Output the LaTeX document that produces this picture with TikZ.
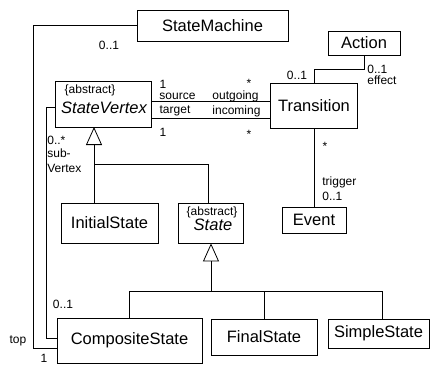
\documentclass[tikz,border=0pt]{standalone}
\usepackage{fontspec}
\setmainfont{Liberation Sans}
\usetikzlibrary{arrows.meta}
\begin{document}
\begin{tikzpicture}[x=1pt,y=-1pt,line width=0.8pt,
  box/.style={draw,rectangle,inner sep=0pt,font=\fontsize{16.5pt}{18pt}\selectfont},
  big/.style={inner sep=0pt,font=\fontsize{16.5pt}{18pt}\selectfont},
  lbl/.style={inner sep=0pt,font=\fontsize{12pt}{13pt}\selectfont},
  gen/.style={-{Triangle[open,length=18pt,width=16pt]}}]
\useasboundingbox (0,0) rectangle (431,365);
% classes
\node[box,minimum width=151pt,minimum height=31pt] (sm) at (212.5,25.5) {StateMachine};
\node[box,minimum width=96pt,minimum height=46pt] (sv) at (103,104) {};
\node[lbl] (sva) at (90,90) {\{abstract\}};
\node[big,font=\fontsize{16.5pt}{18pt}\selectfont\itshape] (svn) at (104,108) {StateVertex};
\node[box,minimum width=87pt,minimum height=45pt] (tr) at (314,105.5) {Transition};
\node[box,minimum width=72pt,minimum height=24pt] (ac) at (364,43) {Action};
\node[box,minimum width=64pt,minimum height=26pt] (ev) at (314,220) {Event};
\node[box,minimum width=97pt,minimum height=40pt] (is) at (109.5,223) {InitialState};
\node[box,minimum width=65pt,minimum height=40pt] (st) at (211,223) {};
\node[lbl] (sta) at (212,212) {\{abstract\}};
\node[big,font=\fontsize{16.5pt}{18pt}\selectfont\itshape] (stn) at (213,225) {State};
\node[box,minimum width=145pt,minimum height=45pt] (cs) at (129.5,340.5) {CompositeState};
\node[box,minimum width=106pt,minimum height=36pt] (fs) at (264,337) {FinalState};
\node[box,minimum width=101pt,minimum height=29pt] (ss) at (378.5,333.5) {SimpleState};
% helper coordinates
\coordinate (o1) at (33,348);
\coordinate (i0) at (0,107);
\coordinate (i1) at (46,338);
\coordinate (ya) at (0,101);
\coordinate (yb) at (0,118);
\coordinate (k) at (314,69);
\coordinate (g1) at (94,127);
\coordinate (g2) at (94,164);
\coordinate (g3) at (208,164);
\coordinate (h) at (211,291);
\coordinate (hc) at (129,291);
\coordinate (hs) at (382,291);
% associations
\draw (sm.west) -| (o1) -- (o1 -| cs.west);
\draw (sv.west |- i0) -| (i1) -- (i1 -| cs.west);
\draw (sv.east |- ya) -- (tr.west |- ya);
\draw (sv.east |- yb) -- (tr.west |- yb);
\draw (ac.south) |- (k) -- (tr.north);
\draw (tr.south) -- (ev.north);
% generalizations
\draw[gen] (g1 |- is.north) -- (g1);
\draw (g3 |- st.north) -- (g3) -- (g2);
\draw[gen] (h) -- (st.south);
\draw (hc |- cs.north) -- (hc) -- (hs) -- (hs |- ss.north);
\draw (fs.north) -- (fs.north |- h);
% labels
\node[lbl] (l1) at (109,45) {0..1};
\node[lbl] (l2) at (163,84) {1};
\node[lbl] (l3) at (177.5,96) {source};
\node[lbl] (l4) at (235.5,96) {outgoing};
\node[lbl] (l5) at (249,83) {*};
\node[lbl] (l6) at (175,111) {target};
\node[lbl] (l7) at (236.5,111) {incoming};
\node[lbl] (l8) at (163,132) {1};
\node[lbl] (l9) at (249,134) {*};
\node[lbl] (l10) at (297,75) {0..1};
\node[lbl,anchor=west] (l11) at (367,69) {0..1};
\node[lbl,anchor=west] (l12) at (367,80) {effect};
\node[lbl] (l13) at (325,146) {*};
\node[lbl,anchor=west] (l14) at (322,182) {trigger};
\node[lbl,anchor=west] (l15) at (322,196) {0..1};
\node[lbl,anchor=west] (l16) at (47,140) {0..*};
\node[lbl,anchor=west] (l17) at (47,153) {sub-};
\node[lbl,anchor=west] (l18) at (47,168) {Vertex};
\node[lbl] (l19) at (63,304) {0..1};
\node[lbl] (l20) at (18,341) {top};
\node[lbl] (l21) at (44,358) {1};
\end{tikzpicture}
\end{document}
